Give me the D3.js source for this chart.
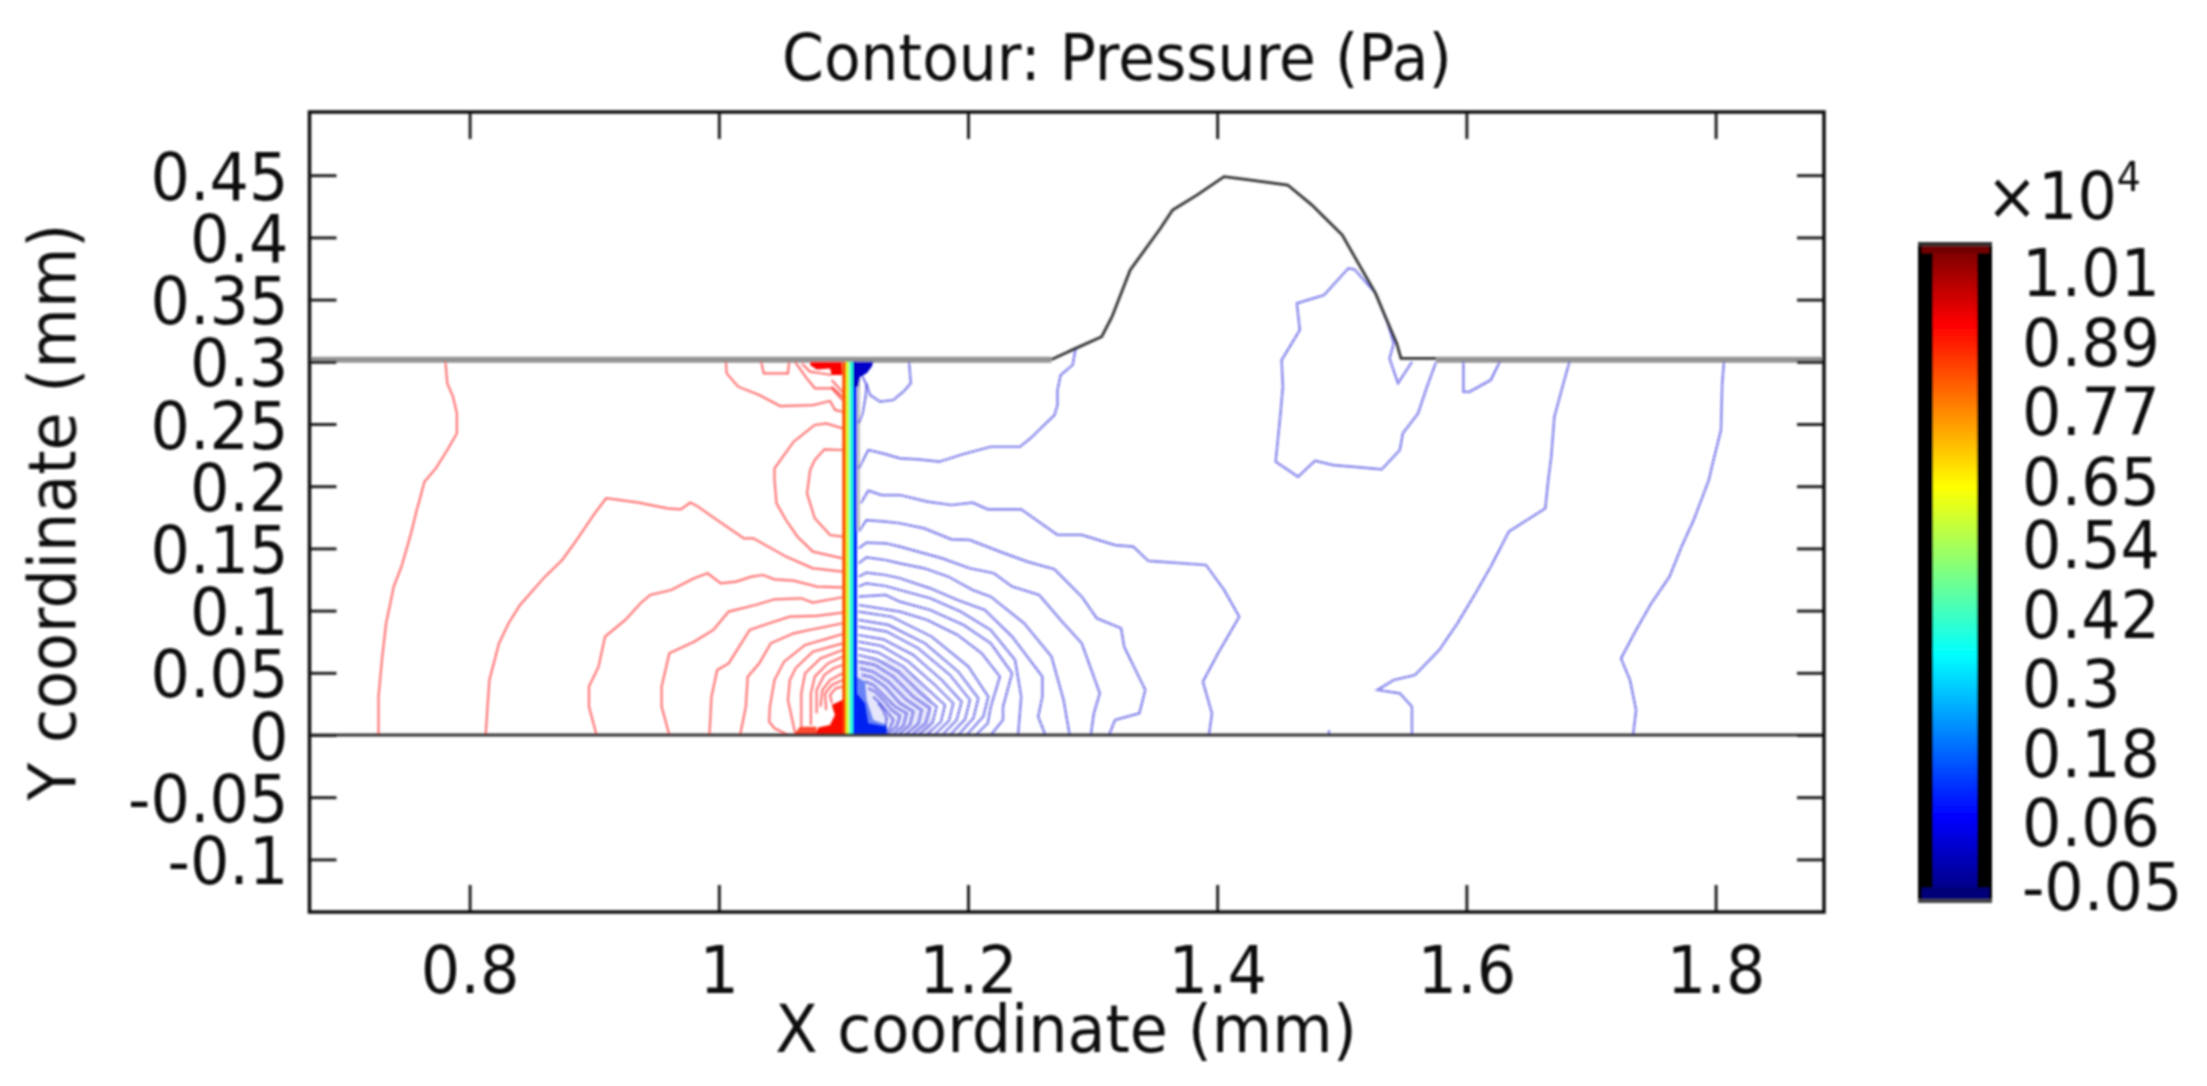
<!DOCTYPE html>
<html>
<head>
<meta charset="utf-8">
<script src="https://cdnjs.cloudflare.com/ajax/libs/d3/7.8.5/d3.min.js"></script>
<style>
    html, body { margin: 0; padding: 0; background: #fff; overflow: hidden; }
    text { font-family: "DejaVu Sans", sans-serif; fill: #111; }
</style>
</head>
<body>
<div id="chart"></div>
<script>
// tick labels, mm
const xTicks = [0.8, 1, 1.2, 1.4, 1.6, 1.8];
const yTicks = [0.45, 0.4, 0.35, 0.3, 0.25, 0.2, 0.15, 0.1, 0.05, 0, -0.05, -0.1];
const barLabels = [1.01, 0.89, 0.77, 0.65, 0.54, 0.42, 0.3, 0.18, 0.06, -0.05];

// jet colormap as seen on the colour bar
const jetPressure = [-0.07, 0.07, 0.35, 0.64, 0.92, 1.06];
const jetColors = ["#000078", "#0000ff", "#00ffff", "#ffff00", "#ff0000", "#700000"];

// the solid band of tightly packed contours at the electrode
const bandEdges = [1.0991, 1.1021, 1.1047, 1.1077, 1.1109];
const bandPressure = [0.83, 0.585, 0.40, 0.11];

// free surface, x/y in mm
const surfaceLine = [[1.2670,.3019],[1.2864,.3108],[1.3073,.3202],[1.3156,.3362],[1.3302,.3738],[1.3545,.4073],[1.3642,.4220],[1.3837,.4340],[1.4055,.4488],[1.4226,.4466],[1.4566,.4421],[1.4761,.4260],[1.5004,.4019],[1.5125,.3805],[1.5271,.3550],[1.5344,.3376],[1.5441,.3148],[1.5475,.3027],[1.5757,.3027]];

const redContours = [
    [[.7806,.3],[.7821,.2827],[.7867,.2719],[.7898,.2585],[.7898,.2425],[.7821,.2291],[.7729,.2143],[.7637,.2036],[.7606,.1916],[.7576,.1809],[.7530,.1621],[.7453,.1353],[.7391,.1193],[.7361,.1045],[.7330,.0898],[.7299,.063],[.7269,.0308],[.7269,0]],
    [[.8129,0],[.8144,.0228],[.8159,.0442],[.8236,.0737],[.8313,.0898],[.8405,.1045],[.8605,.1273],[.8743,.1407],[.8850,.1554],[.9004,.1782],[.9096,.1903],[.9357,.1868],[.9587,.1822],[.9695,.1814],[.9772,.1868],[.9833,.1836],[.9987,.1728],[1.0202,.1581],[1.0278,.1581],[1.0539,.1434],[1.0755,.1340],[1.0994,.1313]],
    [[.9019,0],[.8958,.0228],[.8958,.0389],[.9035,.0549],[.9087,.0791],[.9250,.0925],[.9372,.1059],[.9449,.1126],[.9618,.1166],[.9802,.1260],[.9910,.1300],[1.0017,.1219],[1.0140,.1233],[1.0263,.1273],[1.0355,.1286],[1.0447,.1251],[1.0601,.1241],[1.0785,.1193],[1.0994,.1187]],
    [[.9603,0],[.9541,.0228],[.9541,.0389],[.9603,.0657],[.9802,.0750],[.9956,.0844],[1.0079,.0992],[1.0294,.1045],[1.0447,.1091],[1.0662,.1099],[1.0755,.1064],[1.0994,.1107]],
    [[.9925,0],[.9941,.0308],[.9987,.0522],[1.0079,.0576],[1.0248,.0844],[1.0386,.0892],[1.0570,.0951],[1.0785,.0957],[1.0994,.0984]],
    [[1.0171,0],[1.0217,.0228],[1.0232,.0469],[1.0325,.0576],[1.0417,.0737],[1.0601,.0817],[1.0755,.0850],[1.0994,.0898]],
    [[1.0555,0],[1.0447,.0054],[1.0404,.0107],[1.0410,.0228],[1.0447,.0442],[1.0524,.0590],[1.0693,.0724],[1.0877,.0777],[1.0994,.0812]],
    [[1.0616,0],[1.0555,.0282],[1.0570,.0442],[1.0616,.0536],[1.0755,.0670],[1.0994,.0737]],
    [[1.0662,.0054],[1.0662,.0335],[1.0693,.0496],[1.0816,.0616],[1.0994,.0683]],
    [[1.0739,.0081],[1.0739,.0335],[1.0770,.0469],[1.0877,.0576],[1.0994,.0630]],
    [[1.0785,.0174],[1.0785,.0362],[1.0847,.0483],[1.0923,.0536],[1.0994,.0563]],
    [[1.0816,.0228],[1.0831,.0362],[1.0893,.0442],[1.0994,.0496]],
    [[1.0862,.0201],[1.0853,.0335],[1.0908,.0402],[1.0994,.0442]],
    [[1.0908,.0255],[1.0893,.0322],[1.0939,.0375],[1.0994,.0389]],
    [[1.0057,.3],[1.0063,.2907],[1.0156,.2800],[1.0325,.2733],[1.0493,.2644],[1.0755,.2652],[1.0893,.2685],[1.0933,.2613],[1.0992,.2599]],
    [[1.0340,.3],[1.0361,.2907],[1.0555,.2907],[1.0564,.3]],
    [[1.0612,.3],[1.0706,.2867],[1.0772,.2787],[1.0906,.2787],[1.0992,.2693]],
    [[1.0665,.2988],[1.0732,.2921],[1.0906,.2894]],
    [[1.0906,.2854],[1.0992,.2760]],
    [[1.0906,.2800],[1.0992,.2720]],
    [[1.0994,.2465],[1.0862,.2505],[1.0770,.2492],[1.0601,.2358],[1.0447,.2143],[1.0447,.2050],[1.0463,.1862],[1.0539,.1728],[1.0632,.1594],[1.0755,.1474],[1.0994,.1420]],
    [[1.0994,.2291],[1.0847,.2296],[1.0770,.2210],[1.0733,.2130],[1.0708,.1942],[1.0770,.1742],[1.0893,.1608],[1.0994,.1594]]
];

const blueContours = [
    [[1.8067,.3],[1.8053,.2827],[1.8043,.2451],[1.7970,.2157],[1.7946,.205],[1.7824,.1728],[1.7727,.1514],[1.7630,.1273],[1.7484,.1059],[1.7362,.0844],[1.7241,.0616],[1.7313,.0442],[1.7362,.0201],[1.7338,0]],
    [[1.6827,.3],[1.6779,.2827],[1.6706,.2559],[1.6681,.2237],[1.6657,.205],[1.6633,.1822],[1.6341,.1635],[1.6195,.1353],[1.6073,.1139],[1.5928,.0898],[1.5782,.0683],[1.5587,.0482],[1.5417,.0442],[1.5286,.0362],[1.5466,.0335],[1.5563,.0228],[1.5563,0]],
    [[1.4897,0],[1.4897,.004]],
    [[1.5976,.3],[1.5976,.2759],[1.6025,.2759],[1.6195,.2853],[1.6268,.3]],
    [[1.5757,.3],[1.5684,.2800],[1.5612,.2585],[1.5490,.2425],[1.5466,.2291],[1.5320,.2135],[1.5077,.2157],[1.4931,.2170],[1.4785,.2205],[1.4649,.2076],[1.4469,.2197],[1.4508,.2585],[1.4527,.2800],[1.4517,.3014],[1.4663,.3255],[1.4639,.3470],[1.4858,.3537],[1.5052,.3751],[1.5101,.3743],[1.5271,.3550],[1.5368,.3309],[1.5417,.3148],[1.5383,.3027],[1.5451,.2827],[1.5563,.3]],
    [[1.1527,.3],[1.1541,.2827],[1.1481,.2760],[1.1401,.2693],[1.1294,.2680],[1.1214,.2733],[1.1187,.2813],[1.1147,.2894]],
    [[1.1187,.2827],[1.1178,.2719],[1.1154,.2585],[1.1123,.2505]],
    [[1.1123,.2143],[1.1200,.2291],[1.1338,.2258],[1.1454,.2224],[1.1600,.2216],[1.1770,.2197],[1.1965,.2259],[1.2183,.2317],[1.2417,.2317],[1.2500,.2384],[1.2694,.2572],[1.2718,.2652],[1.2718,.2773],[1.2743,.2893],[1.2840,.2974],[1.2864,.3108]],
    [[1.1138,.1862],[1.1200,.1964],[1.1307,.1929],[1.1454,.1929],[1.1673,.1876],[1.1867,.1849],[1.2037,.1868],[1.2159,.1814],[1.2427,.1814],[1.2718,.1608],[1.2913,.1608],[1.3180,.1527],[1.3326,.1514],[1.3448,.1399],[1.3910,.1367],[1.4055,.1166],[1.4177,.0951],[1.4007,.0657],[1.3885,.0429],[1.3958,.0174],[1.3934,0]],
    [[1.1123,.1635],[1.1184,.1728],[1.1338,.1715],[1.1454,.1702],[1.1649,.1661],[1.1867,.1573],[1.2013,.1568],[1.2256,.1474],[1.2475,.1394],[1.2694,.1332],[1.2913,.1112],[1.3034,.0938],[1.3229,.0858],[1.3253,.0710],[1.3423,.0362],[1.3375,.0174],[1.3180,.0121],[1.3132,0]],
    [[1.1123,.1501],[1.1184,.1546],[1.1338,.1541],[1.1454,.1514],[1.1794,.1420],[1.2013,.1340],[1.2208,.1300],[1.2354,.1193],[1.2572,.1126],[1.2743,.0925],[1.2913,.0737],[1.3058,.0335],[1.3010,.0174],[1.2986,0]],
    [[1.1123,.1380],[1.1184,.1428],[1.1338,.1407],[1.1454,.1380],[1.1649,.1340],[1.1843,.1273],[1.2037,.1166],[1.2183,.1112],[1.2451,.0898],[1.2670,.0630],[1.2767,.0281],[1.2816,0]],
    [[1.1123,.1273],[1.1184,.1305],[1.1338,.1286],[1.1454,.1260],[1.1697,.1179],[1.1916,.1085],[1.2135,.1005],[1.2354,.0791],[1.2597,.0469],[1.2597,.0308],[1.2563,.0147],[1.2621,0]],
    [[1.1123,.1193],[1.1184,.1219],[1.1338,.1198],[1.1454,.1166],[1.1697,.1099],[1.1940,.0992],[1.2183,.0844],[1.2378,.0603],[1.2427,.0308],[1.2402,0]],
    [[1.1123,.1112],[1.1338,.1126],[1.1454,.1072],[1.1697,.1005],[1.1965,.0884],[1.2183,.0737],[1.2354,.0496],[1.2281,.0228],[1.2281,.0121],[1.2183,0]],
    [[1.1123,.1045],[1.1454,.0992],[1.1673,.0925],[1.1916,.0804],[1.2110,.0657],[1.2256,.0469],[1.2183,.0228],[1.2159,.0094],[1.2062,0]],
    [[1.1120,.0992],[1.1387,.0951],[1.1708,.0791],[1.2003,.0550],[1.2163,.0308],[1.2123,.0148],[1.1989,0]],
    [[1.1120,.0925],[1.1361,.0885],[1.1655,.0737],[1.1922,.0509],[1.2083,.0295],[1.2043,.0134],[1.1922,0]],
    [[1.1120,.0871],[1.1347,.0831],[1.1601,.0697],[1.1855,.0483],[1.2016,.0282],[1.1976,.0126],[1.1855,0]],
    [[1.1120,.0804],[1.1320,.0769],[1.1561,.0643],[1.1789,.0442],[1.1949,.0268],[1.1909,.0121],[1.1794,0]],
    [[1.1120,.0751],[1.1307,.0716],[1.1521,.0590],[1.1735,.0402],[1.1882,.0255],[1.1847,.0115],[1.1730,0]],
    [[1.1120,.0697],[1.1280,.0662],[1.1481,.0550],[1.1668,.0375],[1.1815,.0241],[1.1783,.0107],[1.1668,0]],
    [[1.1120,.0643],[1.1267,.0608],[1.1441,.0509],[1.1615,.0341],[1.1748,.0228],[1.1716,.0099],[1.1601,0]],
    [[1.1120,.0590],[1.1254,.0563],[1.1401,.0469],[1.1561,.0308],[1.1695,.0215],[1.1660,.0094],[1.1548,0]],
    [[1.1133,.0536],[1.1240,.0509],[1.1361,.0429],[1.1508,.0282],[1.1628,.0201],[1.1601,.0089],[1.1494,0]],
    [[1.1147,.0483],[1.1227,.0464],[1.1334,.0389],[1.1454,.0255],[1.1561,.0188],[1.1534,.0081],[1.1441,0]],
    [[1.1173,.0429],[1.1240,.0402],[1.1320,.0322],[1.1414,.0228],[1.1508,.0174],[1.1481,.0073],[1.1393,0]],
    [[1.1200,.0375],[1.1254,.0349],[1.1320,.0282],[1.1387,.0201],[1.1454,.0153],[1.1427,.0067],[1.1347,0]],
    [[1.1240,.0308],[1.1294,.0255],[1.1361,.0174],[1.1401,.0121],[1.1374,.0054],[1.1328,0]],
    [[1.1280,.0255],[1.1320,.0201],[1.1347,.0134],[1.1334,.0054]]
];

// corners where the contours merge into solid colour
const redTopBlob = [[1.0732,.3],[1.0986,.3],[1.0992,.2894],[1.0906,.2894],[1.0893,.2947],[1.0786,.2939],[1.0732,.2974]];
const redBottomBlob = [[1.0772,0],[1.0799,.0061],[1.0892,.0080],[1.0932,.0161],[1.0906,.0241],[1.0999,.0286],[1.0999,0]];
const redBottomFan = [[1.0598,0],[1.0652,.0067],[1.0785,.0067],[1.0785,0]];
const blueTopBlob = [[1.1077,.3],[1.1241,.3],[1.1227,.2961],[1.1187,.2907],[1.1134,.2880],[1.1120,.28],[1.1077,.28]];
const blueCorePale = [[1.1109,.0603],[1.1361,.0603],[1.1575,.0469],[1.1708,.0282],[1.1708,0],[1.1109,0]];
const blueBottomOuter = [[1.1106,.0469],[1.1173,.0429],[1.1187,.0282],[1.1240,.0121],[1.1347,.0081],[1.1347,0],[1.1106,0]];
const blueBottomBlob = [[1.1106,.0335],[1.1173,.0255],[1.1200,.0094],[1.1347,.0067],[1.1347,0],[1.1106,0]];
const wallLine = [[1.1122,.3],[1.1122,.165]];

const width = 2207, height = 1086;
const frame = { left: 309.5, right: 1824, top: 112, bottom: 912 };
const stretch = 1.06;   // the picture's glyphs are taller than they are wide

const xScale = d3.scaleLinear().domain([0.8, 1.8]).range([469.6, 1715.6]);
const yScale = d3.scaleLinear().domain([0, 0.45]).range([735, 175.2]);
const xMin = xScale.invert(frame.left), xMax = xScale.invert(frame.right);

const jet = d3.scaleLinear().domain(jetPressure).range(jetColors);
const barScale = d3.scaleLinear().domain([-0.05, 1.01]).range([886, 272]);

const svg = d3.select("#chart").append("svg")
    .attr("width", width)
    .attr("height", height);

const soft = svg.append("defs").append("filter")
    .attr("id", "soft")
    .attr("filterUnits", "userSpaceOnUse")
    .attr("x", 0).attr("y", 0).attr("width", width).attr("height", height);
soft.append("feGaussianBlur").attr("stdDeviation", 0.9);

const root = svg.append("g").attr("filter", "url(#soft)");
const line = d3.line().x(d => xScale(d[0])).y(d => yScale(d[1]));

function drawPlot() {
    const plot = root.append("g");

    // upper boundary, grey where it is flat
    plot.selectAll("line.flat")
        .data([[xMin, 1.2670], [1.5757, xMax]])
        .join("line")
        .attr("class", "flat")
        .attr("x1", d => xScale(d[0]))
        .attr("x2", d => xScale(d[1]))
        .attr("y1", yScale(0.3) - 2)
        .attr("y2", yScale(0.3) - 2)
        .attr("stroke", "#949494")
        .attr("stroke-width", 6);

    plot.append("path").attr("d", line(wallLine))
        .attr("stroke", "#c4c4c4").attr("stroke-width", 3).attr("fill", "none");

    plot.selectAll("path.red")
        .data(redContours)
        .join("path")
        .attr("class", "red")
        .attr("d", line)
        .attr("fill", "none")
        .attr("stroke", "#ff0000")
        .attr("stroke-opacity", 0.55)
        .attr("stroke-width", 2.2);

    plot.append("path").attr("d", line(blueCorePale) + "Z")
        .attr("fill", "#1010d8").attr("fill-opacity", 0.1);

    plot.selectAll("path.blue")
        .data(blueContours)
        .join("path")
        .attr("class", "blue")
        .attr("d", line)
        .attr("fill", "none")
        .attr("stroke", "#1010d8")
        .attr("stroke-opacity", 0.52)
        .attr("stroke-width", 2.2);

    plot.selectAll("rect.band")
        .data(bandPressure)
        .join("rect")
        .attr("class", "band")
        .attr("x", (d, i) => xScale(bandEdges[i]))
        .attr("width", (d, i) => xScale(bandEdges[i + 1]) - xScale(bandEdges[i]))
        .attr("y", yScale(0.3))
        .attr("height", yScale(0) - yScale(0.3))
        .attr("fill", d => jet(d));

    const blobs = [
        [redTopBlob, "#fa0000", 1],
        [redBottomFan, "#ff4a30", 1],
        [redBottomBlob, "#fa1000", 1],
        [blueTopBlob, "#0000c8", 1],
        [blueBottomOuter, "#0030f0", 0.55],
        [blueBottomBlob, "#0020f0", 1]
    ];
    plot.selectAll("path.blob")
        .data(blobs)
        .join("path")
        .attr("class", "blob")
        .attr("d", d => line(d[0]) + "Z")
        .attr("fill", d => d[1])
        .attr("fill-opacity", d => d[2]);

    plot.append("path").attr("d", line(surfaceLine))
        .attr("fill", "none").attr("stroke", "#333").attr("stroke-width", 2.8);

    plot.append("line")
        .attr("x1", frame.left).attr("x2", frame.right)
        .attr("y1", yScale(0)).attr("y2", yScale(0))
        .attr("stroke", "#333").attr("stroke-width", 3.2);
}

function drawAxes() {
    const tickLen = 27;
    const fmt = d => String(d);

    const bottom = root.append("g")
        .attr("transform", `translate(0,${frame.bottom})`)
        .call(d3.axisBottom(xScale).tickValues(xTicks).tickFormat(fmt).tickSizeInner(-tickLen).tickSizeOuter(0));
    const left = root.append("g")
        .attr("transform", `translate(${frame.left},0)`)
        .call(d3.axisLeft(yScale).tickValues(yTicks).tickFormat(fmt).tickSizeInner(-tickLen).tickSizeOuter(0));
    const top = root.append("g")
        .attr("transform", `translate(0,${frame.top})`)
        .call(d3.axisTop(xScale).tickValues(xTicks).tickFormat("").tickSizeInner(-tickLen).tickSizeOuter(0));
    const right = root.append("g")
        .attr("transform", `translate(${frame.right},0)`)
        .call(d3.axisRight(yScale).tickValues(yTicks).tickFormat("").tickSizeInner(-tickLen).tickSizeOuter(0));

    [bottom, left, top, right].forEach(a => {
        a.select(".domain").remove();
        a.selectAll(".tick line").attr("stroke", "#222").attr("stroke-width", 3);
    });

    bottom.selectAll(".tick text")
        .attr("x", null).attr("y", null).attr("dy", null)
        .attr("text-anchor", "middle")
        .attr("transform", `translate(0,81) scale(1,${stretch})`)
        .attr("font-size", 62);
    left.selectAll(".tick text")
        .attr("x", null).attr("y", null).attr("dy", null)
        .attr("text-anchor", "end")
        .attr("transform", `translate(-21,24) scale(1,${stretch})`)
        .attr("font-size", 62);

    root.append("rect")
        .attr("x", frame.left).attr("y", frame.top)
        .attr("width", frame.right - frame.left)
        .attr("height", frame.bottom - frame.top)
        .attr("fill", "none")
        .attr("stroke", "#111")
        .attr("stroke-width", 3.5);
}

function drawLabels() {
    root.append("text")
        .attr("text-anchor", "middle")
        .attr("transform", `translate(1117,80) scale(1,${stretch})`)
        .attr("font-size", 60)
        .text("Contour: Pressure (Pa)");

    root.append("text")
        .attr("text-anchor", "middle")
        .attr("transform", `translate(1066,1052) scale(1,${stretch})`)
        .attr("font-size", 62)
        .text("X coordinate (mm)");

    root.append("text")
        .attr("text-anchor", "middle")
        .attr("transform", `translate(75,512) rotate(-90) scale(1,${stretch})`)
        .attr("font-size", 62)
        .text("Y coordinate (mm)");
}

function drawColorBar() {
    const bar = root.append("g");
    const rows = d3.range(246, 899);

    bar.selectAll("rect.row")
        .data(rows)
        .join("rect")
        .attr("class", "row")
        .attr("x", 1933).attr("width", 44)
        .attr("y", d => d).attr("height", 1.2)
        .attr("fill", d => jet(barScale.invert(d)));

    bar.append("rect").attr("x", 1918).attr("y", 246).attr("width", 15).attr("height", 653).attr("fill", "#000");
    bar.append("rect").attr("x", 1977).attr("y", 246).attr("width", 15).attr("height", 653).attr("fill", "#000");
    bar.append("rect").attr("x", 1922).attr("y", 246).attr("width", 67).attr("height", 7).attr("fill", "#700000");
    bar.append("rect").attr("x", 1922).attr("y", 888).attr("width", 67).attr("height", 11).attr("fill", "#000078");
    bar.append("rect").attr("x", 1918).attr("y", 242).attr("width", 74).attr("height", 4).attr("fill", "#333");
    bar.append("rect").attr("x", 1918).attr("y", 899).attr("width", 74).attr("height", 4).attr("fill", "#444");

    bar.selectAll("text.level")
        .data(barLabels)
        .join("text")
        .attr("class", "level")
        .attr("transform", d => `translate(2022,${barScale(d) + 24}) scale(1,${stretch})`)
        .attr("font-size", 62)
        .text(d => String(d));

    const mult = bar.append("text")
        .attr("transform", `translate(1986,219) scale(1,${stretch})`)
        .attr("font-size", 62);
    mult.append("tspan").text("×10");
    mult.append("tspan").attr("font-size", 38).attr("dy", -26).text("4");
}

drawPlot();
drawAxes();
drawLabels();
drawColorBar();
</script>
</body>
</html>
